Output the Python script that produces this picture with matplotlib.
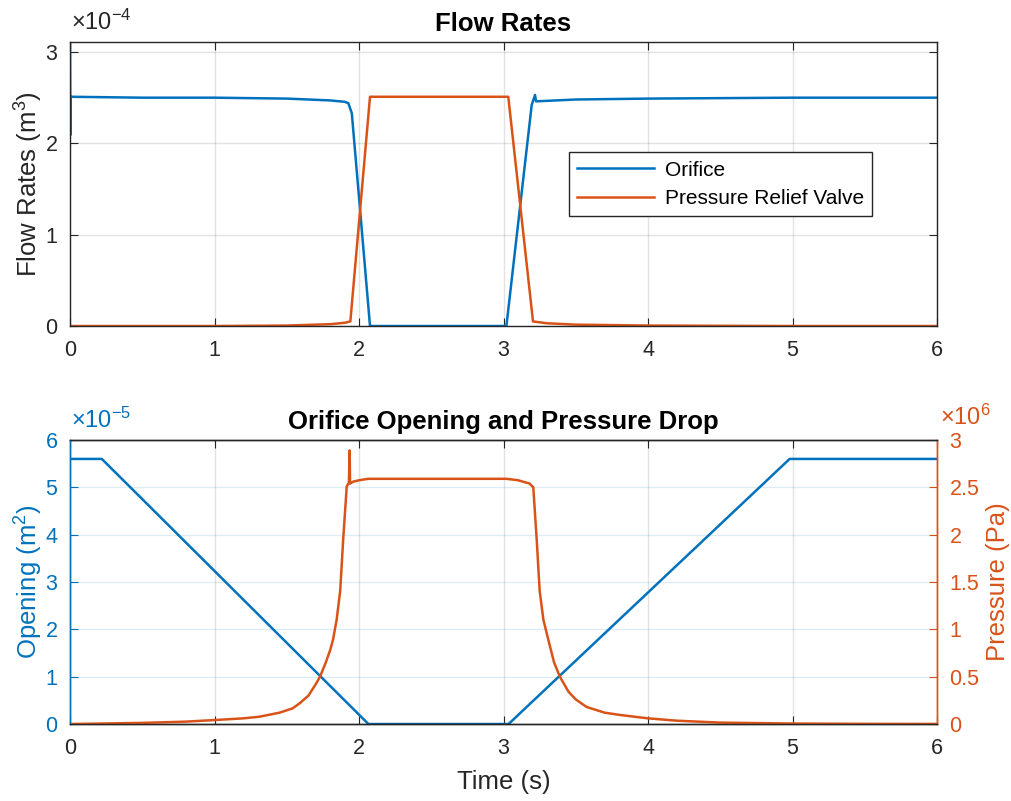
import numpy as np
import matplotlib
matplotlib.use("Agg")
import matplotlib.pyplot as plt
from matplotlib.ticker import FuncFormatter, MultipleLocator

plt.rcParams['font.family'] = ['Liberation Sans', 'DejaVu Sans']
plt.rcParams['mathtext.fontset'] = 'custom'
plt.rcParams['mathtext.rm'] = 'Liberation Sans'
plt.rcParams['mathtext.it'] = 'Liberation Sans'

# --- flow rates (m^3) ---
t_orifice = [0.0, 0.002, 0.005, 0.5, 1.0, 1.5, 1.8, 1.9, 1.926, 1.95, 2.076, 3.02,
             3.195, 3.218, 3.225, 3.5, 4.0, 5.0, 6.0]
q_orifice = [3.11e-4, 2.09e-4, 2.51e-4, 2.5e-4, 2.5e-4, 2.49e-4, 2.47e-4, 2.455e-4,
             2.44e-4, 2.33e-4, 0.0, 0.0, 2.42e-4, 2.53e-4, 2.46e-4, 2.48e-4, 2.49e-4,
             2.5e-4, 2.5e-4]

t_relief = [0.0, 1.0, 1.5, 1.8, 1.9, 1.94, 2.076, 3.033, 3.204, 3.3, 3.5, 4.0, 5.0, 6.0]
q_relief = [0.0, 0.0, 0.05e-5, 0.2e-5, 0.35e-5, 0.5e-5, 2.51e-4, 2.51e-4, 0.5e-5,
            0.3e-5, 0.15e-5, 0.05e-5, 0.0, 0.0]

# --- orifice opening (m^2) ---
t_open = [0.0, 0.22, 2.065, 3.035, 4.98, 6.0]
opening = [5.6e-5, 5.6e-5, 0.0, 0.0, 5.6e-5, 5.6e-5]

# --- pressure drop (Pa) ---
t_press = [0.0, 0.5, 0.8, 1.0, 1.2, 1.31, 1.45, 1.54, 1.59, 1.65, 1.7, 1.73, 1.77,
           1.8, 1.82, 1.845, 1.87, 1.89, 1.915, 1.93, 1.935, 1.938, 1.96, 2.0, 2.065,
           3.02, 3.1, 3.18, 3.206, 3.23, 3.25, 3.276, 3.31, 3.35, 3.39, 3.45, 3.5,
           3.575, 3.7, 3.81, 4.0, 4.2, 4.5, 5.0, 5.5, 6.0]
pressure = [0.0, 0.012e6, 0.025e6, 0.042e6, 0.06e6, 0.077e6, 0.12e6, 0.165e6, 0.22e6,
            0.3e6, 0.42e6, 0.5e6, 0.65e6, 0.78e6, 0.89e6, 1.1e6, 1.41e6, 1.94e6,
            2.51e6, 2.55e6, 2.89e6, 2.54e6, 2.56e6, 2.575e6, 2.59e6, 2.59e6, 2.575e6,
            2.54e6, 2.5e6, 1.94e6, 1.41e6, 1.1e6, 0.89e6, 0.65e6, 0.5e6, 0.34e6,
            0.26e6, 0.18e6, 0.12e6, 0.095e6, 0.06e6, 0.035e6, 0.015e6, 0.005e6,
            0.002e6, 0.001e6]

blue = '#0072BD'
orange = '#D95319'
dark = '#262626'

fig = plt.figure(figsize=(10.12, 8.01), dpi=100)
fig.patch.set_facecolor('white')

tick_fs = 15.5
label_fs = 18.5


def style_axes(ax):
    ax.tick_params(direction='in', length=6, width=0.8, labelsize=tick_fs, top=True)
    ax.tick_params(axis='x', pad=10)
    ax.tick_params(axis='y', pad=9)
    for s in ax.spines.values():
        s.set_linewidth(1.0)
        s.set_color(dark)


# top: flow rates
ax1 = fig.add_axes([0.0692, 0.593, 0.8567, 0.3546])
ax1.plot(t_orifice, q_orifice, color=blue, lw=1.8, label='Orifice')
ax1.plot(t_relief, q_relief, color=orange, lw=1.8, label='Pressure Relief Valve')
ax1.set_xlim(0, 6)
ax1.set_ylim(0, 3.11e-4)
ax1.yaxis.set_major_locator(MultipleLocator(1e-4))
ax1.yaxis.set_major_formatter(FuncFormatter(lambda v, _: f"{v / 1e-4:g}"))
style_axes(ax1)
ax1.tick_params(right=True, colors=dark)
ax1.grid(True, color=dark, alpha=0.13, lw=1.0)
ax1.set_title('Flow Rates', fontsize=label_fs, fontweight='bold', color='black', pad=8)
ax1.set_ylabel('Flow Rates (m$^3$)', fontsize=label_fs, color=dark, labelpad=0)
ax1.annotate(r'$\times10^{-4}$', xy=(0, 1), xycoords='axes fraction', xytext=(1, 5),
             textcoords='offset points', ha='left', va='bottom', fontsize=17, color=dark)
leg = ax1.legend(loc='center', bbox_to_anchor=(0.7505, 0.4985), fontsize=15, frameon=True,
                 fancybox=False, framealpha=1, edgecolor=dark, handlelength=3.7,
                 borderpad=0.4, labelspacing=0.45, handletextpad=0.5)
leg.get_frame().set_linewidth(1.0)

# bottom: opening and pressure
ax2 = fig.add_axes([0.0692, 0.0961, 0.8567, 0.3546])
ax3 = ax2.twinx()
ax2.plot(t_open, opening, color=blue, lw=1.8)
ax3.plot(t_press, pressure, color=orange, lw=1.8)
ax2.set_xlim(0, 6)
ax2.set_ylim(0, 6e-5)
ax3.set_ylim(0, 3e6)
ax2.yaxis.set_major_locator(MultipleLocator(1e-5))
ax2.yaxis.set_major_formatter(FuncFormatter(lambda v, _: f"{v / 1e-5:g}"))
ax3.yaxis.set_major_locator(MultipleLocator(0.5e6))
ax3.yaxis.set_major_formatter(FuncFormatter(lambda v, _: f"{v / 1e6:g}"))
style_axes(ax2)
style_axes(ax3)
ax2.tick_params(axis='x', colors=dark)
ax2.tick_params(axis='y', colors=blue, right=False)
ax3.tick_params(axis='y', colors=orange, left=False)
ax3.tick_params(axis='x', top=False, bottom=False)
ax2.spines['left'].set_color(blue)
ax3.spines['left'].set_color(blue)
ax2.spines['right'].set_color(orange)
ax3.spines['right'].set_color(orange)
ax2.xaxis.grid(True, color=dark, alpha=0.13, lw=1.0)
ax2.yaxis.grid(True, color=blue, alpha=0.13, lw=1.0)
ax2.set_title('Orifice Opening and Pressure Drop', fontsize=label_fs, fontweight='bold',
              color='black', pad=8)
ax2.set_xlabel('Time (s)', fontsize=label_fs, color=dark, labelpad=8)
ax2.set_ylabel('Opening (m$^2$)', fontsize=label_fs, color=blue, labelpad=0)
ax3.set_ylabel('Pressure (Pa)', fontsize=label_fs, color=orange, labelpad=5)
ax2.annotate(r'$\times10^{-5}$', xy=(0, 1), xycoords='axes fraction', xytext=(1, 5),
             textcoords='offset points', ha='left', va='bottom', fontsize=17, color=blue)
ax3.annotate(r'$\times10^{6}$', xy=(1, 1), xycoords='axes fraction', xytext=(2, 7),
             textcoords='offset points', ha='left', va='bottom', fontsize=17, color=orange)

fig.savefig('out.png', dpi=100, facecolor='white')
